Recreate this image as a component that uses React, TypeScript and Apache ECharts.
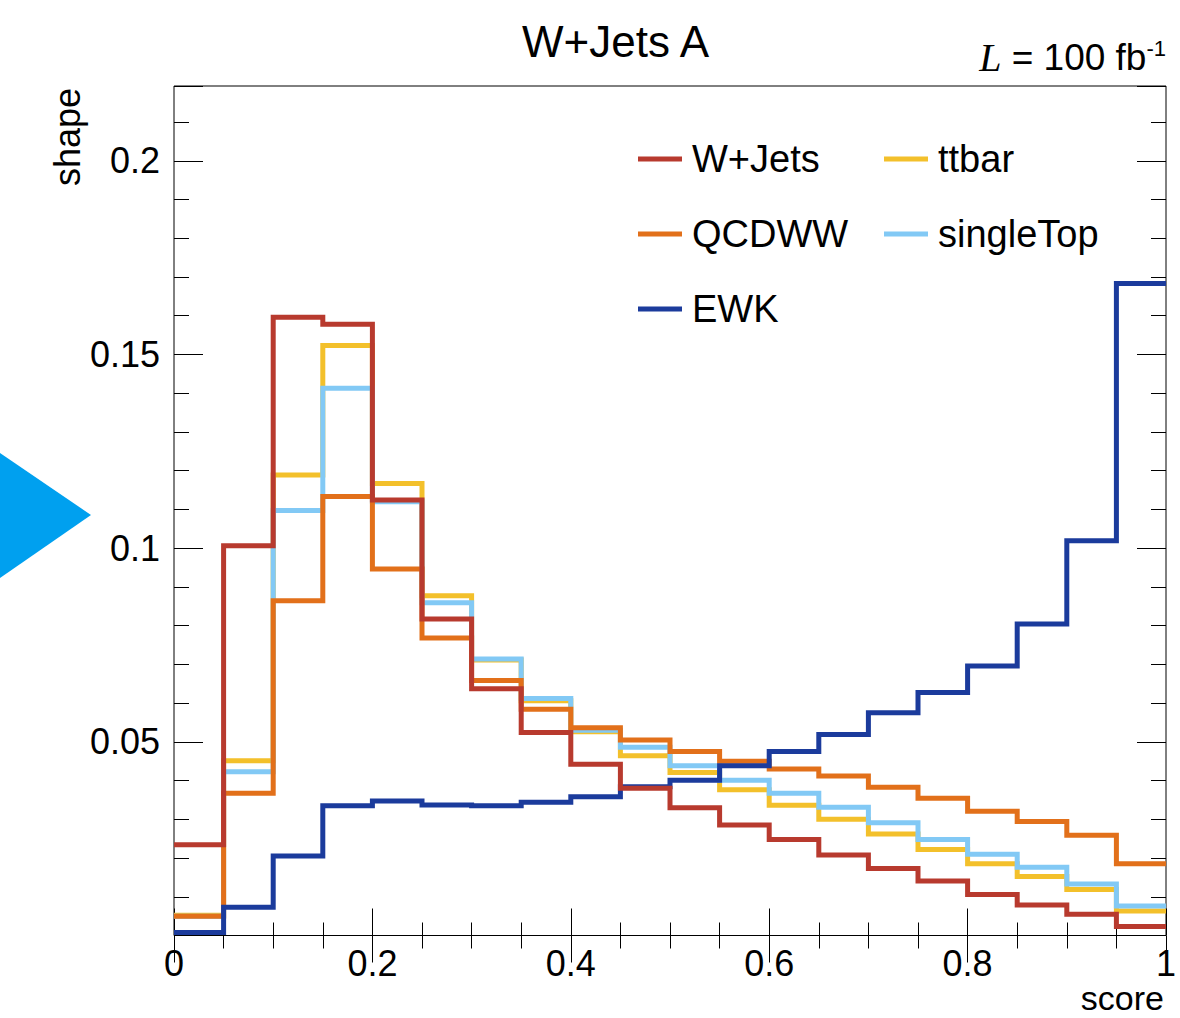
import React, { useEffect, useRef } from "react";
import * as echarts from "echarts";

// ---- data ----
const binEdges = [0, 0.05, 0.1, 0.15, 0.2, 0.25, 0.3, 0.35, 0.4, 0.45, 0.5, 0.55, 0.6, 0.65, 0.7, 0.75, 0.8, 0.85, 0.9, 0.95, 1.0];

const wJets = [0.0234, 0.1006, 0.1596, 0.1578, 0.1124, 0.0817, 0.0637, 0.0524, 0.0442, 0.038, 0.033, 0.0285, 0.0248, 0.0208, 0.0173, 0.0141, 0.0106, 0.0079, 0.0055, 0.0023];
const ttbar = [0.0052, 0.0451, 0.1189, 0.1523, 0.1167, 0.0877, 0.0711, 0.0606, 0.0526, 0.0464, 0.0421, 0.0376, 0.0336, 0.03, 0.0262, 0.0222, 0.0185, 0.0152, 0.0119, 0.0063];
const qcdww = [0.005, 0.0367, 0.0864, 0.1133, 0.0946, 0.0768, 0.0658, 0.0584, 0.0536, 0.0505, 0.0475, 0.045, 0.043, 0.0412, 0.0383, 0.0354, 0.0321, 0.0294, 0.0259, 0.0185];
const singleTop = [0.005, 0.0423, 0.1097, 0.1413, 0.112, 0.0859, 0.0714, 0.0612, 0.053, 0.0486, 0.0438, 0.0401, 0.0367, 0.0331, 0.0291, 0.0248, 0.021, 0.0176, 0.0133, 0.0076];
const ewk = [0.0008, 0.0073, 0.0205, 0.0335, 0.0347, 0.0337, 0.0335, 0.0344, 0.0358, 0.0384, 0.0401, 0.0438, 0.0475, 0.0519, 0.0575, 0.0627, 0.0696, 0.0804, 0.1019, 0.1683];

const yTickLabels = [0.05, 0.1, 0.15, 0.2];
const xTickLabels = [0, 0.2, 0.4, 0.6, 0.8, 1];
const Y_MAX = 0.2193;

const legendCol1 = ["W+Jets", "QCDWW", "EWK"];
const legendCol2 = ["ttbar", "singleTop"];

const FONT = "'Liberation Sans', Arial, Helvetica, sans-serif";

const COLORS: Record<string, string> = {
  "W+Jets": "#b83a2e",
  ttbar: "#f3c02b",
  QCDWW: "#e2701a",
  singleTop: "#82c9f5",
  EWK: "#1b3b9c",
};

function histPoints(values: number[]) {
  return binEdges.map((e, i) => [e, values[Math.min(i, values.length - 1)]]);
}

function stepSeries(name: string, values: number[], z: number) {
  return {
    name,
    type: "line",
    step: "end",
    xAxisIndex: 0,
    yAxisIndex: 0,
    symbol: "none",
    showSymbol: false,
    clip: true,
    z,
    lineStyle: { color: COLORS[name], width: 5, cap: "butt", join: "miter" },
    itemStyle: { color: COLORS[name] },
    data: histPoints(values),
  };
}

function xAxisDef(position: "bottom" | "top", showLabel: boolean) {
  return {
    type: "value",
    position,
    min: 0,
    max: 1,
    interval: 0.2,
    axisLine: { show: false },
    axisTick: { show: true, inside: true, length: 27, lineStyle: { color: "#000", width: 1 } },
    minorTick: { show: true, splitNumber: 4, length: 13, lineStyle: { color: "#000", width: 1 } },
    splitLine: { show: false },
    minorSplitLine: { show: false },
    axisLabel: {
      show: showLabel,
      fontSize: 36,
      fontFamily: FONT,
      color: "#000",
      margin: 10,
      formatter: (v: number) => {
        const hit = xTickLabels.find((t) => Math.abs(t - v) < 1e-6);
        return hit === undefined ? "" : String(hit);
      },
    },
  };
}

function yAxisDef(position: "left" | "right", major: boolean, showLabel: boolean) {
  return {
    type: "value",
    position,
    min: 0,
    max: Y_MAX,
    interval: major ? 0.05 : 0.01,
    axisLine: { show: false },
    axisTick: {
      show: true,
      inside: true,
      length: major ? 29 : 15,
      lineStyle: { color: "#000", width: 1 },
    },
    splitLine: { show: false },
    axisLabel: {
      show: showLabel,
      fontSize: 36,
      fontFamily: FONT,
      color: "#000",
      margin: 14,
      showMinLabel: false,
      formatter: (v: number) => {
        const hit = yTickLabels.find((t) => Math.abs(t - v) < 1e-6);
        return hit === undefined ? "" : String(hit);
      },
    },
  };
}

function legendDef(data: string[], left: number) {
  return {
    data,
    orient: "vertical",
    left,
    top: 139,
    padding: 0,
    itemWidth: 44,
    itemHeight: 5,
    itemGap: 35,
    icon: "rect",
    selectedMode: false,
    textStyle: {
      fontSize: 38,
      fontFamily: FONT,
      color: "#000",
      lineHeight: 40,
      padding: [0, 0, 0, 5],
    },
  };
}

export default function App() {
  const ref = useRef<HTMLDivElement>(null);

  useEffect(() => {
    if (!ref.current) return;
    const chart = echarts.init(ref.current, null, { renderer: "svg" });
    const option = {
      animation: false,
      backgroundColor: "#fff",
      title: {
        text: "W+Jets A",
        left: 517,
        top: 14,
        textStyle: { fontSize: 44, fontWeight: "normal", fontFamily: FONT, color: "#000" },
      },
      grid: {
        left: 174,
        right: 14,
        top: 86,
        bottom: 82.5,
        show: true,
        borderColor: "#000",
        borderWidth: 1,
        backgroundColor: "transparent",
        containLabel: false,
      },
      legend: [legendDef(legendCol1, 638), legendDef(legendCol2, 884)],
      xAxis: [xAxisDef("bottom", true), xAxisDef("top", false)],
      yAxis: [
        yAxisDef("left", true, true),
        yAxisDef("left", false, false),
        yAxisDef("right", true, false),
        yAxisDef("right", false, false),
      ],
      series: [
        stepSeries("ttbar", ttbar, 2),
        stepSeries("singleTop", singleTop, 3),
        stepSeries("QCDWW", qcdww, 4),
        stepSeries("EWK", ewk, 5),
        stepSeries("W+Jets", wJets, 6),
      ],
      graphic: [
        {
          type: "polygon",
          shape: { points: [[0, 453], [91, 515], [0, 578]] },
          style: { fill: "#00a0ef" },
          z: 100,
        },
        {
          type: "text",
          x: 67,
          y: 88,
          rotation: Math.PI / 2,
          style: {
            text: "shape",
            fontSize: 36,
            fontFamily: FONT,
            fill: "#000",
            align: "right",
            verticalAlign: "middle",
          },
        },
        {
          type: "text",
          x: 1164,
          y: 998,
          style: {
            text: "score",
            fontSize: 34,
            fontFamily: FONT,
            fill: "#000",
            align: "right",
            verticalAlign: "middle",
          },
        },
        {
          type: "text",
          x: 1166,
          y: 57,
          style: {
            text: "{it|L} = 100 fb{sup|-1}",
            fontSize: 37,
            fontFamily: FONT,
            fill: "#000",
            align: "right",
            verticalAlign: "middle",
            rich: {
              it: { fontFamily: "'Liberation Serif', 'Times New Roman', serif", fontStyle: "italic", fontSize: 40, fill: "#000" },
              sup: { fontSize: 22, verticalAlign: "top", fill: "#000", fontFamily: FONT },
            },
          },
        },
      ],
    };
    chart.setOption(option as any);
    return () => chart.dispose();
  }, []);

  return (
    <div
      ref={ref}
      style={{ position: "fixed", left: 0, top: 0, width: 1180, height: 1018, background: "#fff" }}
    />
  );
}
